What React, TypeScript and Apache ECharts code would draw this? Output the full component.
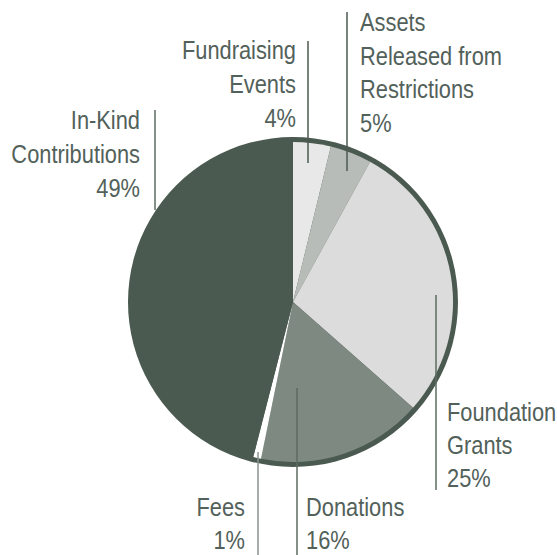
import React, { useEffect, useRef } from "react";
import * as echarts from "echarts";

// Slice order clockwise from 12 o'clock
const categories = [
  "Fundraising Events",
  "Assets Released from Restrictions",
  "Foundation Grants",
  "Donations",
  "Fees",
  "In-Kind Contributions",
];
// Slice sizes as drawn in the picture
const sliceValues = [3.8, 4.2, 28.5, 16.7, 0.8, 46];
// Printed percentage labels
const percentLabels = ["4%", "5%", "25%", "16%", "1%", "49%"];
// Label text lines (name parts)
const labelLines = [
  ["Fundraising", "Events"],
  ["Assets", "Released from", "Restrictions"],
  ["Foundation", "Grants"],
  ["Donations"],
  ["Fees"],
  ["In-Kind", "Contributions"],
];

const sliceColors = ["#e8e8e8", "#b7bcb8", "#dcdcdc", "#7e8981", "#ffffff", "#4b5a50"];
const textColor = "#52615a";
const FONT = '"Liberation Sans", Arial, sans-serif';

// layout for labels: x anchor, alignment, first line center y, line spacing, leader line
const labelLayout = [
  { x: 296, align: "right", y0: 50, lh: 34, line: [308, 41, 163], lineColor: "#4b5a50" },
  { x: 360, align: "left", y0: 22, lh: 33.5, line: [347, 12, 171], lineColor: "#4b5a50" },
  { x: 447, align: "left", y0: 412, lh: 33, line: [436, 295, 490], lineColor: "#5d6b62" },
  { x: 306, align: "left", y0: 507, lh: 33, line: [297, 388, 555], lineColor: "#5d6b62" },
  { x: 245, align: "right", y0: 507, lh: 33, line: [258, 452, 555], lineColor: "#8b958f" },
  { x: 140, align: "right", y0: 120, lh: 34, line: [155, 110, 210], lineColor: "#5d6b62" },
];

export default function App() {
  const ref = useRef<HTMLDivElement>(null);
  useEffect(() => {
    if (!ref.current) return;
    const chart = echarts.init(ref.current, null, { renderer: "svg" });
    const graphics: any[] = [];
    categories.forEach((_, i) => {
      const L = labelLayout[i];
      const lines = [...labelLines[i], percentLabels[i]];
      lines.forEach((t, j) => {
        graphics.push({
          type: "text",
          z: 10,
          x: L.x,
          y: L.y0 + j * L.lh,
          scaleX: 0.84,
          style: {
            text: t,
            x: 0,
            y: 0,
            font: `26px ${FONT}`,
            fill: textColor,
            textAlign: L.align,
            textVerticalAlign: "middle",
          },
        });
      });
      graphics.push({
        type: "line",
        z: 10,
        shape: { x1: L.line[0], y1: L.line[1], x2: L.line[0], y2: L.line[2] },
        style: { stroke: L.lineColor, lineWidth: 1.5 },
      });
    });
    chart.setOption({
      animation: false,
      backgroundColor: "#ffffff",
      series: [
        {
          type: "pie",
          center: [293, 302],
          radius: [0, 165],
          silent: true,
          z: 1,
          label: { show: false },
          labelLine: { show: false },
          data: [{ value: 1, itemStyle: { color: "#4b5a50" } }],
        },
        {
          type: "pie",
          center: [293, 302],
          radius: [0, 160],
          startAngle: 90,
          clockwise: true,
          z: 2,
          label: { show: false },
          labelLine: { show: false },
          itemStyle: { borderWidth: 0 },
          data: categories.map((name, i) => ({
            name,
            value: sliceValues[i],
            itemStyle: { color: sliceColors[i] },
          })),
        },
      ],
      graphic: graphics,
    });
    return () => chart.dispose();
  }, []);
  return (
    <div
      ref={ref}
      style={{ position: "fixed", left: 0, top: 0, width: 557, height: 555 }}
    />
  );
}
